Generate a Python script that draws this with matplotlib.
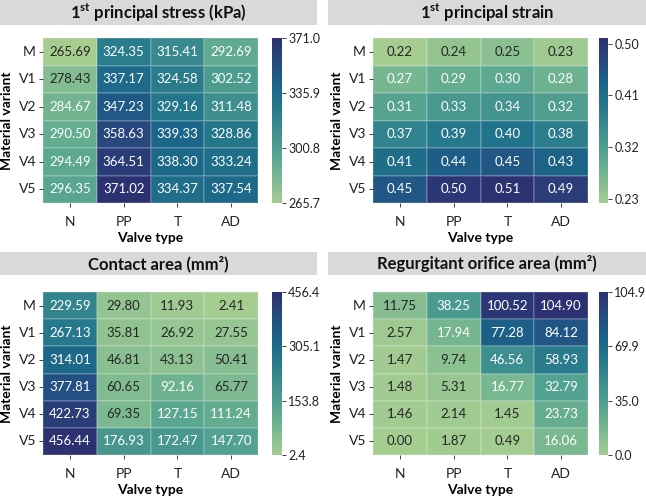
import numpy as np
import matplotlib
matplotlib.use("Agg")
import matplotlib.pyplot as plt
import seaborn as sns
from matplotlib.patches import Rectangle

rows = ["M", "V1", "V2", "V3", "V4", "V5"]
cols = ["N", "PP", "T", "AD"]

stress = [[265.69, 324.35, 315.41, 292.69],
          [278.43, 337.17, 324.58, 302.52],
          [284.67, 347.23, 329.16, 311.48],
          [290.50, 358.63, 339.33, 328.86],
          [294.49, 364.51, 338.30, 333.24],
          [296.35, 371.02, 334.37, 337.54]]
strain = [[0.22, 0.24, 0.25, 0.23],
          [0.27, 0.29, 0.30, 0.28],
          [0.31, 0.33, 0.34, 0.32],
          [0.37, 0.39, 0.40, 0.38],
          [0.41, 0.44, 0.45, 0.43],
          [0.45, 0.50, 0.51, 0.49]]
contact = [[229.59, 29.80, 11.93, 2.41],
           [267.13, 35.81, 26.92, 27.55],
           [314.01, 46.81, 43.13, 50.41],
           [377.81, 60.65, 92.16, 65.77],
           [422.73, 69.35, 127.15, 111.24],
           [456.44, 176.93, 172.47, 147.70]]
regurg = [[11.75, 38.25, 100.52, 104.90],
          [2.57, 17.94, 77.28, 84.12],
          [1.47, 9.74, 46.56, 58.93],
          [1.48, 5.31, 16.77, 32.79],
          [1.46, 2.14, 1.45, 23.73],
          [0.00, 1.87, 0.49, 16.06]]

titles = [r"1$^{\mathbf{st}}$ principal stress (kPa)",
          r"1$^{\mathbf{st}}$ principal strain",
          "Contact area (mm²)",
          "Regurgitant orifice area (mm²)"]
cbar_ticks = [[265.69, 300.80, 335.91, 371.02],
              [0.23, 0.32, 0.41, 0.50],
              [2.41, 153.75, 305.09, 456.44],
              [0.0, 34.97, 69.93, 104.90]]
cbar_labels = [["265.7", "300.8", "335.9", "371.0"],
               ["0.23", "0.32", "0.41", "0.50"],
               ["2.4", "153.8", "305.1", "456.4"],
               ["0.0", "35.0", "69.9", "104.9"]]
vlims = [(265.69, 371.02), (0.2225, 0.51), (2.41, 456.44), (0.0, 104.90)]
datas = [stress, strain, contact, regurg]

plt.rcParams['font.family'] = ['Lato', 'DejaVu Sans']
plt.rcParams['mathtext.fontset'] = 'custom'
plt.rcParams['mathtext.rm'] = 'Lato'
plt.rcParams['mathtext.bf'] = 'Lato:bold'

W, H = 646, 497
fig = plt.figure(figsize=(W / 100, H / 100), dpi=100)

def fx(px): return px / W
def fy(py): return 1 - py / H

# panel geometry in pixels
heat_x = [(43, 258), (373, 588), (43, 258), (373, 588)]
heat_y = [(38, 203), (38, 203), (292, 455), (292, 455)]
cb_x = [(272, 282), (599, 608), (272, 282), (599, 608)]
box_x = [(0, 317), (328, 646), (0, 317), (328, 646)]
box_y = [(0, 25), (0, 25), (252, 275), (252, 275)]

for i in range(4):
    x0, x1 = heat_x[i]
    y0, y1 = heat_y[i]
    ax = fig.add_axes([fx(x0), fy(y1), fx(x1 - x0), (y1 - y0) / H])
    c0, c1 = cb_x[i]
    cax = fig.add_axes([fx(c0), fy(y1), fx(c1 - c0), (y1 - y0) / H])
    vmin, vmax = vlims[i]
    arr = np.array(datas[i])
    sns.heatmap(arr, ax=ax, cbar_ax=cax, cmap="crest", vmin=vmin, vmax=vmax,
                annot=True, fmt=".2f", annot_kws={"fontsize": 9.5},
                xticklabels=cols, yticklabels=rows,
                linewidths=0.3, linecolor=(1, 1, 1, 0.15))
    ax.set_xlabel("Valve type", fontsize=10, fontweight="bold", labelpad=3)
    ax.set_ylabel("Material variant", fontsize=10, fontweight="bold", labelpad=4)
    ax.tick_params(axis="both", labelsize=10, length=3, width=0.6, colors="#222222")
    ax.tick_params(axis="x", pad=6)
    ax.tick_params(axis="y", pad=2)
    ax.set_yticklabels(rows, rotation=0)
    ax.set_xticklabels(cols, rotation=0)
    cax.set_yticks(cbar_ticks[i])
    cax.set_yticklabels(cbar_labels[i])
    cax.tick_params(labelsize=9, length=3, width=0.6, pad=1.5, colors="#222222")
    bx0, bx1 = box_x[i]
    by0, by1 = box_y[i]
    fig.patches.append(Rectangle((fx(bx0), fy(by1)), fx(bx1 - bx0), (by1 - by0) / H,
                                 transform=fig.transFigure, facecolor="#d9d9d9",
                                 edgecolor="none", zorder=0))
    fig.text(fx((bx0 + bx1) / 2), fy((by0 + by1) / 2), titles[i], ha="center",
             va="center", fontsize=12, fontweight="bold", color="#111111")

fig.savefig("out.png", dpi=100)
